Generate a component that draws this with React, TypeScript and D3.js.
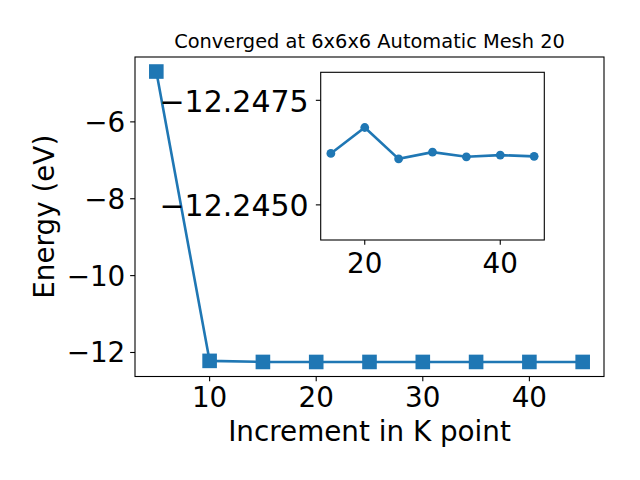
import React from 'react';
import * as d3 from 'd3';

// k-point increments and total energies (eV)
const kPoints = [5, 10, 15, 20, 25, 30, 35, 40, 45];
const energies = [-4.69, -12.218, -12.24623, -12.24685, -12.2461, -12.24626, -12.24615, -12.24619, -12.24616];

// inset: zoom on the converged part
const insetK = [15, 20, 25, 30, 35, 40, 45];
const insetE = [-12.24623, -12.24685, -12.2461, -12.24626, -12.24615, -12.24619, -12.24616];
const insetYLim = [-12.24817, -12.24416]; // top -> bottom (axis is inverted)

const xTicks = [10, 20, 30, 40];
const yTicks = [-12, -10, -8, -6];
const insetXTicks = [20, 40];
const insetYTicks = [-12.2475, -12.245];

const title = 'Converged at 6x6x6 Automatic Mesh 20';
const xLabel = 'Increment in K point';
const yLabel = 'Energy (eV)';

const BLUE = '#1f77b4';
const FONT = 'DejaVu Sans';
const TICK = 4.86;

const minus = (s: string) => s.replace('-', '\u2212');

const pad = (lo: number, hi: number, m = 0.05): [number, number] => {
  const r = hi - lo;
  return [lo - r * m, hi + r * m];
};

export default function App() {
  const W = 640;
  const H = 480;
  const main = { left: 135, right: 604, top: 57, bottom: 376.5 };
  const ins = { left: 320.7, right: 544.3, top: 72.3, bottom: 240 };

  const x = d3
    .scaleLinear()
    .domain(pad(d3.min(kPoints)!, d3.max(kPoints)!))
    .range([main.left, main.right]);
  const y = d3
    .scaleLinear()
    .domain(pad(d3.min(energies)!, d3.max(energies)!))
    .range([main.bottom, main.top]);

  const xi = d3
    .scaleLinear()
    .domain(pad(d3.min(insetK)!, d3.max(insetK)!))
    .range([ins.left, ins.right]);
  const yi = d3.scaleLinear().domain(insetYLim).range([ins.top, ins.bottom]);

  const mainLine = d3
    .line<number>()
    .x((_, i) => x(kPoints[i]))
    .y(d => y(d))(energies);

  const insetLine = d3
    .line<number>()
    .x((_, i) => xi(insetK[i]))
    .y(d => yi(d))(insetE);

  const ms = 14.6;

  return (
    <svg
      width={W}
      height={H}
      style={{ position: 'absolute', left: 0, top: 0, background: '#fff' }}
      fontFamily={FONT}
    >
      <rect width={W} height={H} fill="#fff" />

      {/* main axes */}
      <path d={mainLine || ''} fill="none" stroke={BLUE} strokeWidth={2.6} />
      {energies.map((e, i) => (
        <rect
          key={i}
          x={x(kPoints[i]) - ms / 2}
          y={y(e) - ms / 2}
          width={ms}
          height={ms}
          fill={BLUE}
        />
      ))}
      <rect
        x={main.left}
        y={main.top}
        width={main.right - main.left}
        height={main.bottom - main.top}
        fill="none"
        stroke="#000"
        strokeWidth={1.1}
      />
      {xTicks.map(t => (
        <g key={t}>
          <line x1={x(t)} x2={x(t)} y1={main.bottom} y2={main.bottom + TICK} stroke="#000" strokeWidth={1.1} />
          <text x={x(t)} y={main.bottom + 30.3} fontSize={27.8} textAnchor="middle">
            {t}
          </text>
        </g>
      ))}
      {yTicks.map(t => (
        <g key={t}>
          <line x1={main.left - TICK} x2={main.left} y1={y(t)} y2={y(t)} stroke="#000" strokeWidth={1.1} />
          <text x={main.left - 9.7} y={y(t) + 10} fontSize={27.8} textAnchor="end">
            {minus(String(t))}
          </text>
        </g>
      ))}
      <text x={(main.left + main.right) / 2} y={441} fontSize={27.8} textAnchor="middle">
        {xLabel}
      </text>
      <text
        transform={`translate(54,${(main.top + main.bottom) / 2}) rotate(-90)`}
        fontSize={27.8}
        textAnchor="middle"
      >
        {yLabel}
      </text>
      <text x={(main.left + main.right) / 2} y={48.3} fontSize={19.4} textAnchor="middle">
        {title}
      </text>

      {/* inset axes */}
      <rect
        x={ins.left}
        y={ins.top}
        width={ins.right - ins.left}
        height={ins.bottom - ins.top}
        fill="#fff"
      />
      <path d={insetLine || ''} fill="none" stroke={BLUE} strokeWidth={2.6} />
      {insetE.map((e, i) => (
        <circle key={i} cx={xi(insetK[i])} cy={yi(e)} r={4.4} fill={BLUE} />
      ))}
      <rect
        x={ins.left}
        y={ins.top}
        width={ins.right - ins.left}
        height={ins.bottom - ins.top}
        fill="none"
        stroke="#000"
        strokeWidth={1.1}
      />
      {insetXTicks.map(t => (
        <g key={t}>
          <line x1={xi(t)} x2={xi(t)} y1={ins.bottom} y2={ins.bottom + TICK} stroke="#000" strokeWidth={1.1} />
          <text x={xi(t)} y={ins.bottom + 32.5} fontSize={27.8} textAnchor="middle">
            {t}
          </text>
        </g>
      ))}
      {insetYTicks.map(t => (
        <g key={t}>
          <line x1={ins.left - TICK} x2={ins.left} y1={yi(t)} y2={yi(t)} stroke="#000" strokeWidth={1.1} />
          <text x={ins.left - 12} y={yi(t) + 11.5} fontSize={30} textAnchor="end">
            {minus(t.toFixed(4))}
          </text>
        </g>
      ))}
    </svg>
  );
}
